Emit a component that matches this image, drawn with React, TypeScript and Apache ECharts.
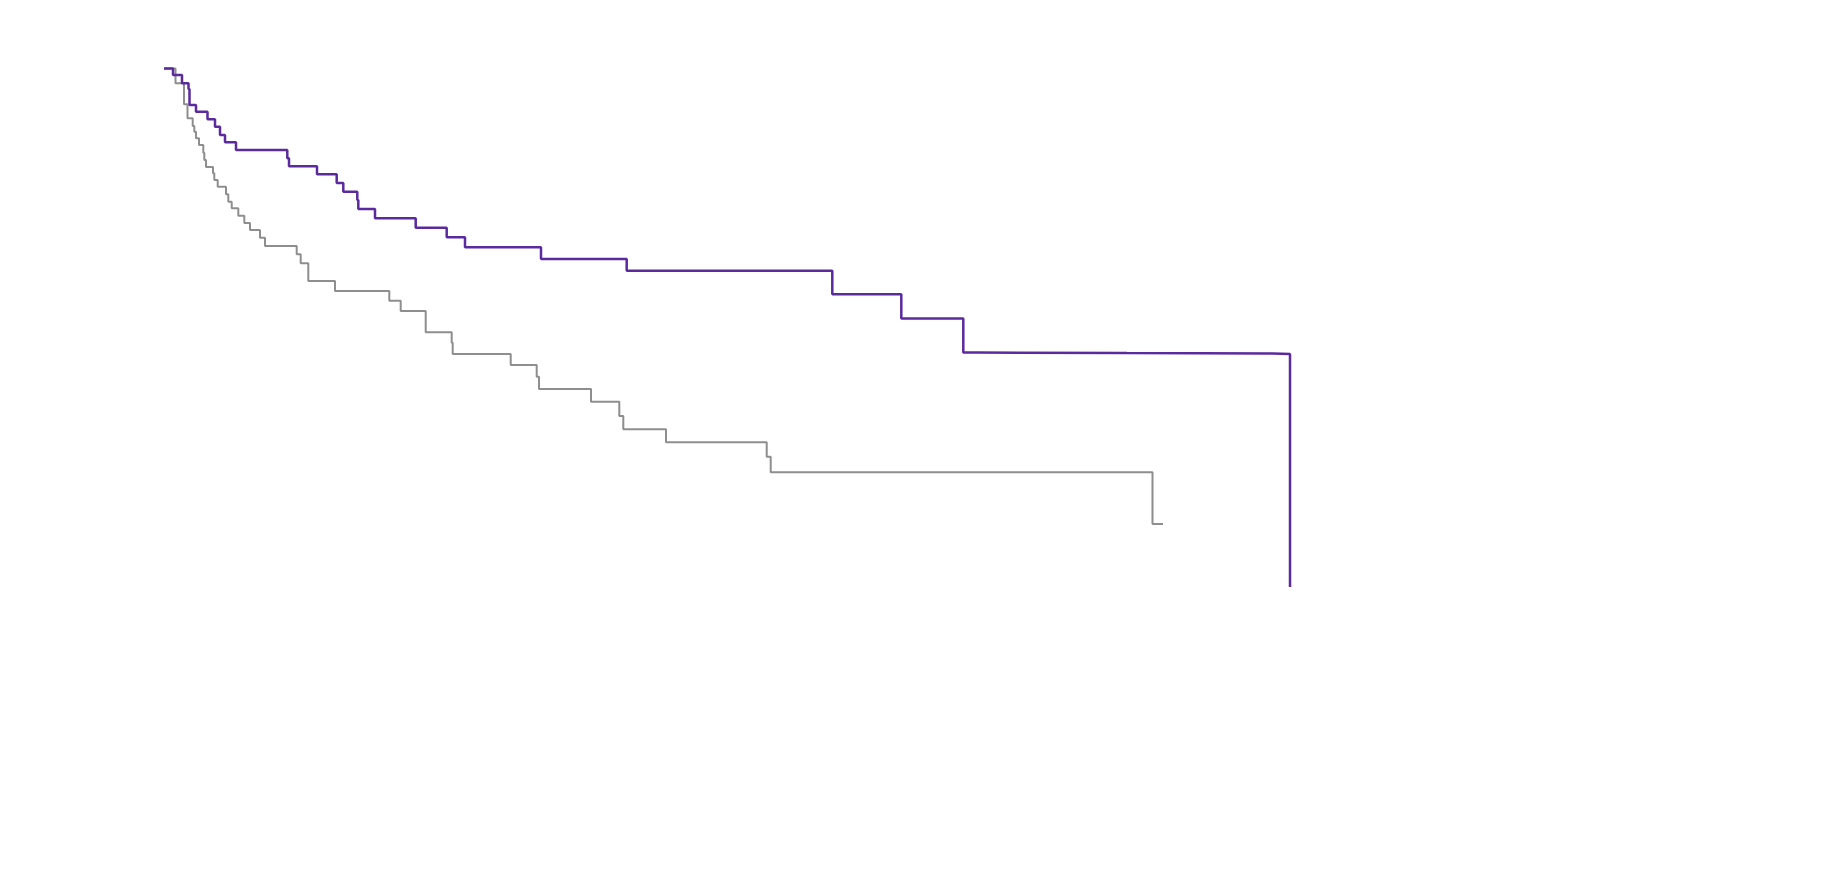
import React, { useEffect, useRef } from "react";
import * as echarts from "echarts";

// Kaplan-Meier style step curves: [time, survival]
const purpleTimes = [0, 0.9, 1.8, 2.45, 2.55, 3.2, 4.35, 5.1, 5.6, 6.1, 7.2, 12.33, 12.5, 15.3, 17.27, 17.93, 19.33, 19.43, 21.1, 25.17, 28.27, 30.1, 37.7, 46.27, 66.83, 73.73, 79.93, 81.3, 96.3, 110.9, 112.6];
const purpleValues = [1, 0.9875, 0.9715, 0.9605, 0.9296, 0.9167, 0.902, 0.8878, 0.8717, 0.8577, 0.8428, 0.8268, 0.8114, 0.7961, 0.7792, 0.7624, 0.7464, 0.729, 0.7111, 0.693, 0.6744, 0.6552, 0.6326, 0.61, 0.5645, 0.5178, 0.4523, 0.4511, 0.4503, 0.4494, 0];

const grayTimes = [0, 1.15, 2.0, 2.35, 2.87, 3.03, 3.2, 3.5, 3.93, 4.03, 4.2, 4.9, 5.03, 5.37, 6.2, 6.43, 6.77, 7.43, 8.03, 8.6, 9.6, 10.1, 13.27, 13.67, 14.43, 17.1, 22.53, 23.67, 26.17, 28.77, 28.87, 34.67, 37.27, 37.5, 42.7, 45.53, 45.93, 50.2, 60.27, 60.67, 98.85, 99.9];
const grayValues = [1, 0.9715, 0.931, 0.904, 0.8891, 0.8781, 0.8654, 0.8525, 0.8376, 0.8235, 0.81, 0.7979, 0.785, 0.772, 0.7576, 0.7431, 0.7304, 0.7159, 0.702, 0.6885, 0.6735, 0.6577, 0.6417, 0.6243, 0.5902, 0.5709, 0.5522, 0.5323, 0.4912, 0.4712, 0.4494, 0.4282, 0.4056, 0.3819, 0.3574, 0.3298, 0.3041, 0.2791, 0.2513, 0.2212, 0.1215, 0.1215];

const zip = (t: number[], v: number[]) => t.map((x, i) => [x, v[i]]);

export default function App() {
  const ref = useRef<HTMLDivElement>(null);
  useEffect(() => {
    if (!ref.current) return;
    const chart = echarts.init(ref.current, undefined, { renderer: "svg" });
    chart.setOption({
      animation: false,
      backgroundColor: "#ffffff",
      grid: { left: 164, top: 68.5, width: 1200, height: 518.5 },
      xAxis: { type: "value", min: 0, max: 120, show: false },
      yAxis: { type: "value", min: 0, max: 1, show: false },
      series: [
        {
          name: "gray",
          type: "line",
          step: "end",
          symbol: "none",
          clip: false,
          data: zip(grayTimes, grayValues),
          lineStyle: { color: "#8e8e8e", width: 2 },
        },
        {
          name: "purple",
          type: "line",
          step: "end",
          symbol: "none",
          clip: false,
          data: zip(purpleTimes, purpleValues),
          lineStyle: { color: "#5b2a9d", width: 2.5 },
        },
      ],
    });
    return () => chart.dispose();
  }, []);
  return (
    <div
      ref={ref}
      style={{ position: "fixed", left: 0, top: 0, width: 1832, height: 885 }}
    />
  );
}
